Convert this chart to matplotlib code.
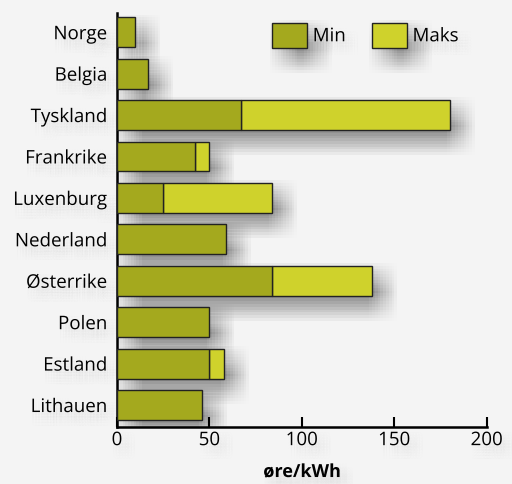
import numpy as np
import matplotlib
matplotlib.use('Agg')
from matplotlib import pyplot as plt
from matplotlib import patheffects as pe
from matplotlib.patches import Patch

countries = ['Norge', 'Belgia', 'Tyskland', 'Frankrike', 'Luxenburg',
             'Nederland', 'Østerrike', 'Polen', 'Estland', 'Lithauen']
min_vals = [10, 17, 67, 42, 25, 59, 84, 50, 50, 46]
maks_vals = [10, 17, 180, 50, 84, 59, 138, 50, 58, 46]

c_min = '#a4a91e'
c_maks = '#cfd22c'
bg = '#f4f4f4'

plt.rcParams['font.family'] = ['Open Sans', 'DejaVu Sans']

fig = plt.figure(figsize=(5.12, 4.84), dpi=100, facecolor=bg)
ax = fig.add_axes([0.2285, 0.1178, 0.722, 0.855])
ax.set_facecolor(bg)

# soft drop shadow: many faint offset copies, shadow only
shadow = []
for dx in range(-2, 19, 2):
    for dy in range(-2, 19, 2):
        shadow.append(pe.SimplePatchShadow(offset=(dx, -dy), shadow_rgbFace='#000000', alpha=0.0022))

# lighter, smaller shadow for texts
txt_fx = []
for dx in range(0, 11, 2):
    for dy in range(0, 11, 2):
        txt_fx.append(pe.SimplePatchShadow(offset=(dx, -dy), shadow_rgbFace='#000000', alpha=0.004))
txt_fx.append(pe.Normal())

y = np.arange(len(countries))
extra = np.array(maks_vals) - np.array(min_vals)

sh = ax.barh(y, maks_vals, height=0.72, color='none', edgecolor='none', zorder=1)
for r in sh:
    r.set_path_effects(shadow)

ax.barh(y, min_vals, height=0.72, color=c_min, edgecolor='#222222', linewidth=1.0, zorder=3)
b2 = ax.barh(y, extra, left=min_vals, height=0.72, color=c_maks, edgecolor='#222222', linewidth=1.0, zorder=2)
for r, e in zip(b2, extra):
    if e <= 0:
        r.set_visible(False)

ax.set_xlim(0, 200)
ax.set_ylim(9.53, -0.46)
ax.set_yticks(y)
ax.set_yticklabels(countries, fontsize=13.5)
ax.tick_params(axis='y', length=0, pad=7)
ax.set_xticks([0, 50, 100, 150, 200])
ax.tick_params(axis='x', direction='in', length=7, width=1.5, labelsize=13.5, pad=3)
for s in ['top', 'right']:
    ax.spines[s].set_visible(False)
for s in ['left', 'bottom']:
    ax.spines[s].set_linewidth(1.8)
xl = ax.set_xlabel('øre/kWh', fontsize=13, fontweight='bold', labelpad=10)
xl.set_path_effects(txt_fx)
for t in ax.get_yticklabels() + ax.get_xticklabels():
    t.set_path_effects(txt_fx)

leg_fx = shadow + [pe.Normal()]
handles = [Patch(facecolor=c_min, edgecolor='#222222', label='Min', path_effects=leg_fx),
           Patch(facecolor=c_maks, edgecolor='#222222', label='Maks', path_effects=leg_fx)]
leg = ax.legend(handles=handles, ncol=2, frameon=False, loc='upper left', bbox_to_anchor=(0.395, 1.0),
                borderpad=0, handlelength=1.85, handleheight=1.7, handletextpad=0.3,
                columnspacing=1.4, fontsize=13.5)
for t in leg.get_texts():
    t.set_path_effects(txt_fx)

fig.savefig('out.png', dpi=100, facecolor=bg)
